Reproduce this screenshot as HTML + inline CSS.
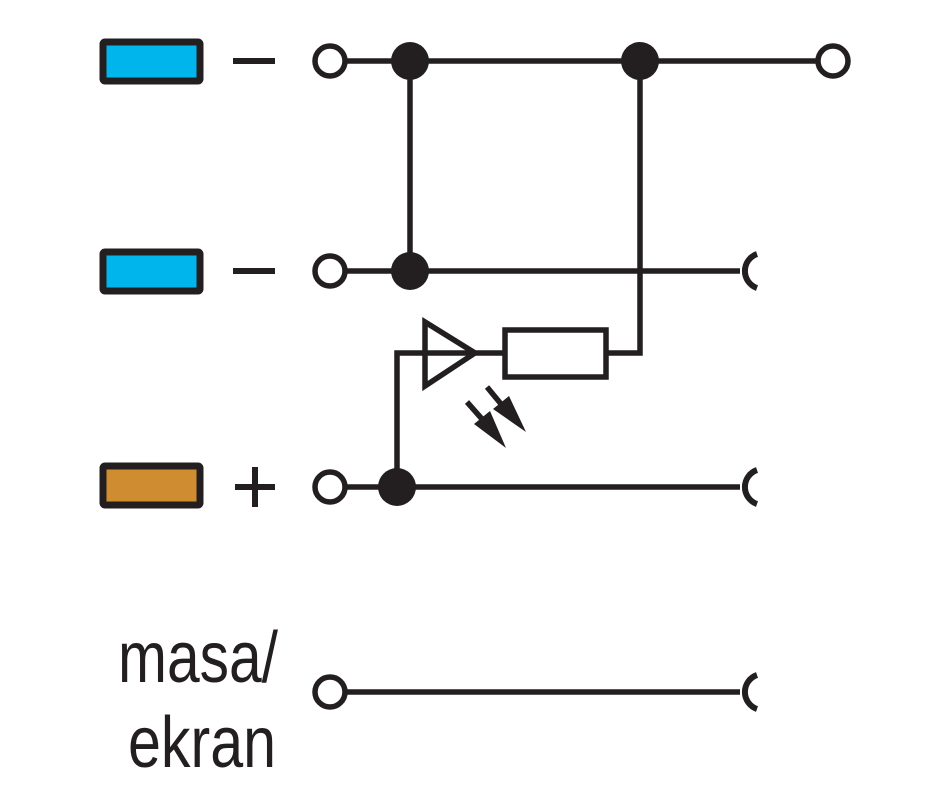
<!DOCTYPE html>
<html><head><meta charset="utf-8"><style>html,body{margin:0;padding:0;background:#fff}svg{display:block}</style></head><body>
<svg width="944" height="798" viewBox="0 0 944 798" xmlns="http://www.w3.org/2000/svg">
<g stroke="#231f20" stroke-width="5.5" fill="none" stroke-linecap="butt">
<rect x="103" y="42" width="97" height="39" fill="#00b5ec" stroke-width="7" rx="2"/>
<rect x="103" y="252" width="97" height="39" fill="#00b5ec" stroke-width="7" rx="2"/>
<rect x="103" y="466" width="97" height="39" fill="#d08c30" stroke-width="7" rx="2"/>
<line x1="233" y1="61" x2="275" y2="61" stroke-width="6"/>
<line x1="233" y1="271" x2="275" y2="271" stroke-width="6"/>
<line x1="235" y1="487" x2="275" y2="487" stroke-width="6"/>
<line x1="255" y1="467" x2="255" y2="507" stroke-width="6"/>
<line x1="346" y1="61" x2="817" y2="61"/>
<line x1="346" y1="271" x2="740" y2="271"/>
<line x1="346" y1="487" x2="740" y2="487"/>
<line x1="346" y1="692" x2="740" y2="692"/>
<line x1="410" y1="61" x2="410" y2="271"/>
<polyline points="640,61 640,353 606,353"/>
<polyline points="397,487 397,353 505,353"/>
<polygon points="425,322 425,386 475,353"/>
<rect x="505" y="330" width="101" height="47"/>
<circle cx="330" cy="61" r="15" fill="#fff"/>
<circle cx="330" cy="271" r="15" fill="#fff"/>
<circle cx="330" cy="487" r="15" fill="#fff"/>
<circle cx="330" cy="692" r="15" fill="#fff"/>
<circle cx="833" cy="61" r="15" fill="#fff"/>
<path d="M757 254 A18 18 0 0 0 757 288" stroke-width="6"/>
<path d="M757 470 A18 18 0 0 0 757 504" stroke-width="6"/>
<path d="M757 675 A18 18 0 0 0 757 709" stroke-width="6"/>
<line x1="467" y1="402" x2="482" y2="419"/>
<line x1="487" y1="387" x2="501" y2="404"/>
</g>
<g fill="#231f20">
<circle cx="410" cy="61" r="19"/>
<circle cx="640" cy="61" r="19"/>
<circle cx="410" cy="271" r="19"/>
<circle cx="397" cy="487" r="19"/>
<polygon points="474,424 490,411 506,448"/>
<polygon points="493,409 509,396 526,432"/>
</g>
<g font-family="Liberation Sans, sans-serif" font-size="72" fill="#231f20">
<text x="118" y="682" textLength="160" lengthAdjust="spacingAndGlyphs">masa/</text>
<text x="128" y="767" textLength="148" lengthAdjust="spacingAndGlyphs">ekran</text>
</g>
</svg>
</body></html>
